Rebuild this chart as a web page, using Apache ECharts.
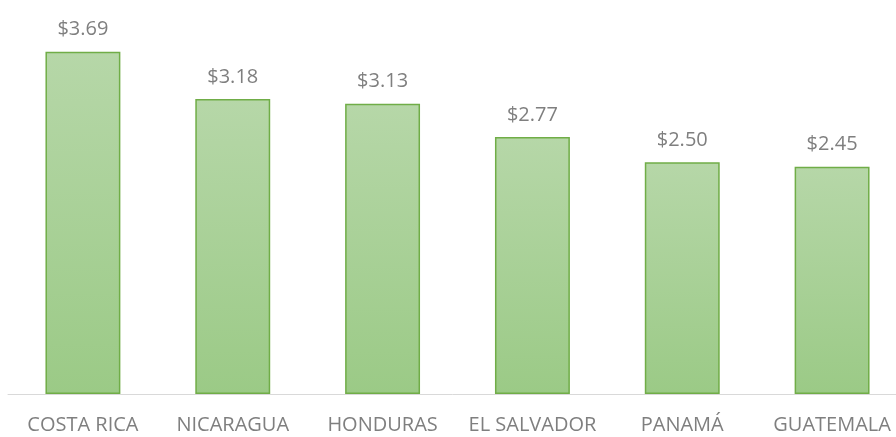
<!DOCTYPE html>
<html>
<head>
<meta charset="utf-8">
<script src="https://cdn.jsdelivr.net/npm/echarts@6/dist/echarts.min.js"></script>
<style>
  html, body { margin: 0; padding: 0; background: #ffffff; }
  #chart { width: 896px; height: 437px; }
</style>
</head>
<body>
<div id="chart"></div>
<script>
// Average price per country (USD)
const countries = ['COSTA RICA', 'NICARAGUA', 'HONDURAS', 'EL SALVADOR', 'PANAMÁ', 'GUATEMALA'];
const prices = [3.69, 3.18, 3.13, 2.77, 2.50, 2.45];

const chart = echarts.init(document.getElementById('chart'), null, { renderer: 'canvas' });

chart.setOption({
  animation: false,
  // plot area runs slightly past the right edge so the last category is clipped
  grid: { left: 8, width: 899, top: 23, height: 371, outerBoundsMode: 'none', containLabel: false },
  xAxis: {
    type: 'category',
    data: countries,
    axisLine: { lineStyle: { color: '#d9d9d9', width: 1 } },
    axisTick: { show: false },
    axisLabel: {
      color: '#7f7f7f',
      fontFamily: 'Open Sans',
      fontSize: 20,
      margin: 21,
      interval: 0
    }
  },
  yAxis: {
    type: 'value',
    min: 0,
    max: 4,
    show: false,
    splitLine: { show: false }
  },
  series: [{
    type: 'bar',
    data: prices,
    barWidth: '50%',
    itemStyle: {
      borderColor: '#70ad47',
      borderWidth: 1.5,
      color: new echarts.graphic.LinearGradient(0, 0, 0, 1, [
        { offset: 0, color: '#b6d7a8' },
        { offset: 1, color: '#9bca86' }
      ])
    },
    label: {
      show: true,
      position: 'top',
      distance: 12,
      color: '#7f7f7f',
      fontFamily: 'Open Sans',
      fontSize: 20,
      formatter: p => '$' + p.value.toFixed(2)
    }
  }]
});
</script>
</body>
</html>
